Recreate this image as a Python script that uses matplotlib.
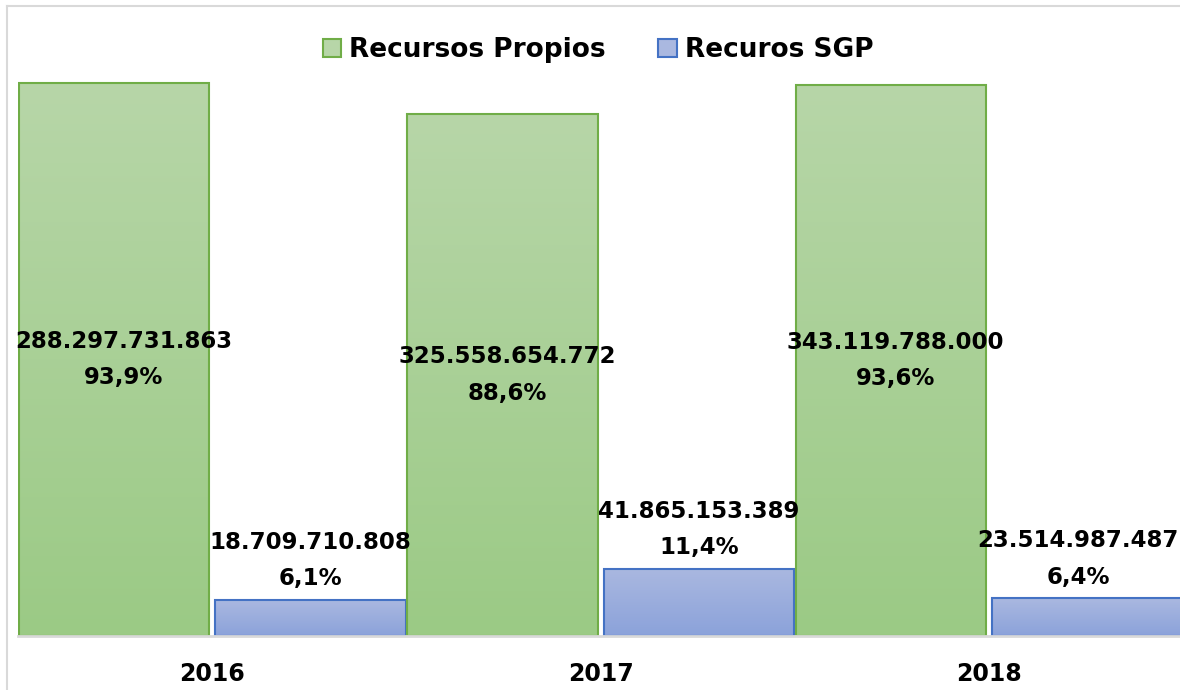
import matplotlib
matplotlib.use("Agg")
import matplotlib.pyplot as plt
import numpy as np
from matplotlib.patches import Rectangle
from matplotlib.lines import Line2D

years = ["2016", "2017", "2018"]
propios_val = ["288.297.731.863", "325.558.654.772", "343.119.788.000"]
propios_pct = [93.9, 88.6, 93.6]
sgp_val = ["18.709.710.808", "41.865.153.389", "23.514.987.487"]
sgp_pct = [6.1, 11.4, 6.4]
series_names = ["Recursos Propios", "Recuros SGP"]

plt.rcParams['font.family'] = ['DejaVu Sans']

W, H = 1180, 690
fig = plt.figure(figsize=(W / 100, H / 100), dpi=100)
fig.patch.set_facecolor("white")

# chart border (top and left visible)
fig.add_artist(Line2D([7 / W, 7 / W], [0, 1 - 6 / H], transform=fig.transFigure,
                      color="#D9D9D9", lw=1.5))
fig.add_artist(Line2D([7 / W, 1], [1 - 6 / H, 1 - 6 / H], transform=fig.transFigure,
                      color="#D9D9D9", lw=1.5))

unit = 388.5
ax = fig.add_axes([18 / W, 54 / H, 3 * unit / W, 588.9 / H])
ax.set_xlim(-0.5, 2.5)
ax.set_ylim(0, 100)
ax.axis("off")

x = np.arange(len(years))
bw = 0.49
off = 0.2525

green_edge = "#70AD47"
blue_edge = "#4472C4"
green_grad = ("#B7D6A8", "#9BCA85")
blue_grad = ("#AAB8E0", "#8BA2DA")


def pct(v):
    return f"{v:.1f}".replace(".", ",") + "%"


def grad_bar(xc, h, cols, edge):
    bars = ax.bar(xc, h, width=bw, color="none", edgecolor=edge, linewidth=1.5, zorder=3)
    b = bars[0]
    c0 = np.array(matplotlib.colors.to_rgb(cols[0]))
    c1 = np.array(matplotlib.colors.to_rgb(cols[1]))
    t = np.linspace(0, 1, 256)[:, None]
    img = (c0[None, :] * (1 - t) + c1[None, :] * t)[:, None, :]
    im = ax.imshow(img, extent=[xc - bw / 2, xc + bw / 2, 0, h], aspect="auto",
                   origin="upper", zorder=2)
    im.set_clip_path(b)
    return b


for i in range(len(years)):
    grad_bar(x[i] - off, propios_pct[i], green_grad, green_edge)
    grad_bar(x[i] + off, sgp_pct[i], blue_grad, blue_edge)

ax.set_xlim(-0.5, 2.5)
ax.set_ylim(0, 100)

# baseline
ax.plot([-0.5, 2.5], [0, 0], color="#D9D9D9", lw=2, zorder=4, clip_on=False)

fs = 16.5
ls = 1.75
for i in range(len(years)):
    dx = 7 if i == 0 else 3
    ax.annotate(f"{propios_val[i]}\n{pct(propios_pct[i])}",
                xy=(x[i] - off, propios_pct[i] / 2), xytext=(dx, 0),
                textcoords="offset points",
                ha="center", va="center", fontsize=fs, fontweight="bold",
                linespacing=ls, zorder=5, annotation_clip=False)
for i in range(len(years)):
    dx = -6.5 if i == 2 else 0
    ax.annotate(f"{sgp_val[i]}\n{pct(sgp_pct[i])}",
                xy=(x[i] + off, sgp_pct[i]), xytext=(dx, 7), textcoords="offset points",
                ha="center", va="bottom", fontsize=fs, fontweight="bold",
                linespacing=ls, zorder=5, annotation_clip=False)

for i in range(len(years)):
    ax.text(x[i], -6.4, years[i], ha="center", va="center", fontsize=17,
            fontweight="bold", clip_on=False)

# legend
handles = [Rectangle((0, 0), 1, 1, facecolor=green_grad[0], edgecolor=green_edge, lw=1.5),
           Rectangle((0, 0), 1, 1, facecolor=blue_grad[0], edgecolor=blue_edge, lw=1.5)]
fig.legend(handles, series_names, loc="center", bbox_to_anchor=(598 / W, 1 - 50 / H),
           ncol=2, frameon=False, prop={"weight": "bold", "size": 19},
           handlelength=0.7, handleheight=0.7, handletextpad=0.3, columnspacing=2.0)

fig.savefig("out.png", dpi=100, facecolor="white")
